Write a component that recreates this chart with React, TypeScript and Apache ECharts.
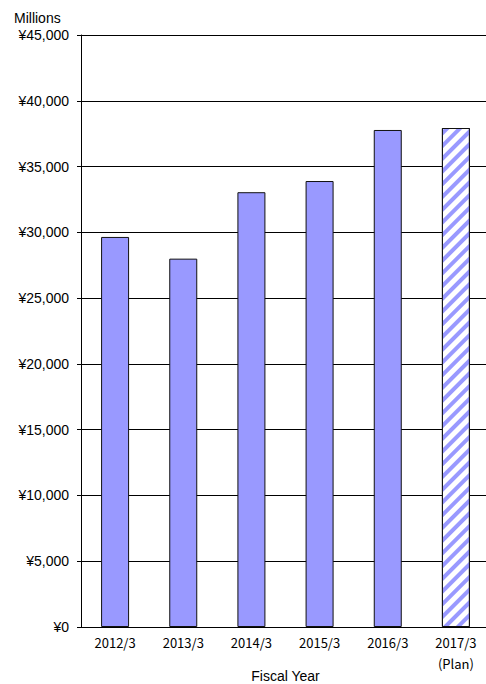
import React, { useEffect, useRef } from "react";
import * as echarts from "echarts";

const categories = ["2012/3", "2013/3", "2014/3", "2015/3", "2016/3", "2017/3\n(Plan)"];
const values = [29650, 28000, 33050, 33900, 37780, 37930];
const planFlags = [false, false, false, false, false, true];
const yTicks = [0, 5000, 10000, 15000, 20000, 25000, 30000, 35000, 40000, 45000];

const fmtYen = (v: number) => "¥" + v.toLocaleString("en-US");

export default function App() {
  const ref = useRef<HTMLDivElement>(null);
  useEffect(() => {
    document.body.style.margin = "0";
    document.body.style.overflow = "hidden";
    const chart = echarts.init(ref.current!, null, { renderer: "svg" });
    const data = values.map((v, i) =>
      planFlags[i]
        ? {
            value: v,
            itemStyle: {
              color: "#ffffff",
              decal: {
                symbol: "rect",
                color: "#9999ff",
                backgroundColor: "#ffffff",
                dashArrayX: [1, 0],
                dashArrayY: [4, 5],
                rotation: -Math.PI / 4,
                symbolSize: 1,
              },
            },
          }
        : { value: v }
    );
    chart.setOption({
      animation: false,
      aria: { enabled: false, decal: { show: false } },
      grid: {
        left: 81,
        right: -4,
        top: 35,
        bottom: 57,
        containLabel: false,
        outerBoundsMode: "none",
      },
      xAxis: {
        type: "category",
        data: categories,
        name: "Fiscal Year",
        nameLocation: "middle",
        nameGap: 42,
        nameMoveOverlap: false,
        nameTextStyle: { fontFamily: "Liberation Sans", fontSize: 14, color: "#000" },
        axisLine: { lineStyle: { color: "#000", width: 1 } },
        axisTick: { show: false },
        axisLabel: {
          fontFamily: "Noto Sans CJK JP",
          fontSize: 13,
          color: "#000",
          margin: 5,
          lineHeight: 21,
          interval: 0,
        },
      },
      yAxis: {
        type: "value",
        min: yTicks[0],
        max: yTicks[yTicks.length - 1],
        interval: yTicks[1] - yTicks[0],
        name: "Millions",
        nameLocation: "end",
        nameGap: 10,
        nameTextStyle: {
          fontFamily: "Liberation Sans",
          fontSize: 14,
          color: "#000",
          align: "left",
          padding: [0, 0, 0, -67],
        },
        axisLine: { show: true, lineStyle: { color: "#000", width: 1 } },
        axisTick: { show: true, length: 4, inside: false, lineStyle: { color: "#000" } },
        axisLabel: {
          fontFamily: "Liberation Sans",
          fontSize: 14,
          color: "#000",
          margin: 12,
          formatter: (v: number) => fmtYen(v),
        },
        splitLine: { show: true, lineStyle: { color: "#000", width: 1 } },
      },
      series: [
        {
          type: "bar",
          data,
          barWidth: 28,
          itemStyle: { color: "#9999ff", borderColor: "#111", borderWidth: 1 },
        },
      ],
    });
    return () => chart.dispose();
  }, []);
  return (
    <div
      ref={ref}
      style={{ position: "absolute", left: 0, top: 0, width: 486, height: 684 }}
    />
  );
}
